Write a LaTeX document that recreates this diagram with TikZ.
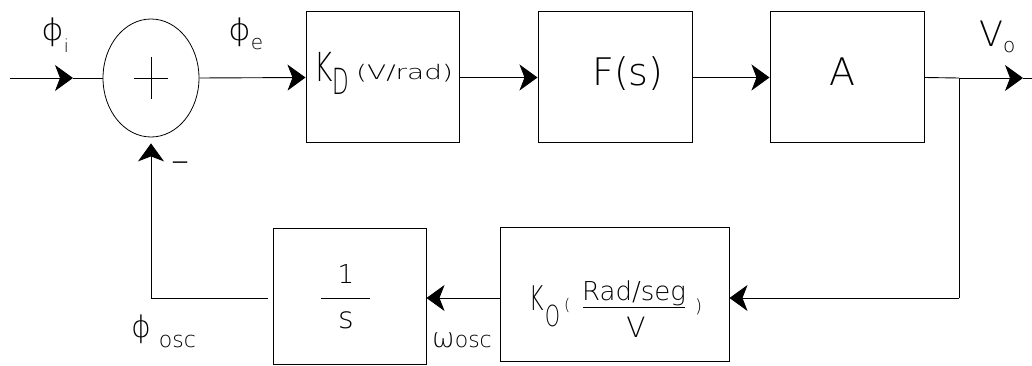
\documentclass[tikz,border=0pt]{standalone}
\usepackage{fontspec}
\usetikzlibrary{arrows.meta,shapes.geometric}
\IfFontExistsTF{DejaVu Sans ExtraLight}{\newfontfamily\cad{DejaVu Sans ExtraLight}}{\IfFontExistsTF{Fira Sans Light}{\newfontfamily\cad{Fira Sans Light}}{\newfontfamily\cad{DejaVu Sans}}}
\newfontfamily\djv{DejaVu Sans}
\newcommand\fs[1]{\fontsize{#1}{#1}\selectfont}
\newcommand\phisym{\iffontchar\font"03D5 ϕ\else{\djv ϕ}\fi}
\begin{document}
\begin{tikzpicture}[x=1pt,y=-1pt,
  blk/.style={draw=black, line width=1pt, rectangle, inner sep=0pt},
  sumj/.style={draw=black, line width=0.8pt, ellipse, inner sep=0pt, minimum width=96pt, minimum height=118pt},
  wire/.style={line width=0.9pt},
  tip/.style={-{Stealth[length=18pt,width=26pt,inset=5pt]}},
  lbl/.style={inner sep=0pt, anchor=base west, font=\cad},
  clbl/.style={inner sep=0pt, anchor=base, font=\cad}]
\useasboundingbox (0,0) rectangle (1032,366);
% blocks
\node[sumj] (sum) at (151,78) {};
\node[blk, minimum width=153pt, minimum height=131pt] (kd) at (382.5,77.5) {};
\node[blk, minimum width=154pt, minimum height=131pt] (fs) at (615,77.5) {};
\node[blk, minimum width=154pt, minimum height=131pt] (amp) at (847,77.5) {};
\node[blk, minimum width=229pt, minimum height=134pt] (ko) at (614.5,294) {};
\node[blk, minimum width=153pt, minimum height=136pt] (int) at (349.5,296) {};
% plus sign
\draw[wire] ([xshift=-17pt]sum.center) -- ([xshift=17pt]sum.center);
\draw[wire] ([yshift=21pt]sum.center) -- ([yshift=-21pt]sum.center);
% connectors
\coordinate (in) at (10,78);
\coordinate (intip) at (73,78);
\draw[wire,tip] (in) -- (intip);
\draw[wire] (intip) -- (sum.west);
\draw[wire,tip] (sum.east) -- (kd.west);
\draw[wire,tip] (kd.east) -- (fs.west);
\draw[wire,tip] (fs.east) -- (amp.west);
\coordinate (br) at (959,78);
\coordinate (outtip) at (1023,78);
\coordinate (outend) at (1032,78);
\draw[wire] (amp.east) -- (br);
\draw[wire,tip] (br) -- (outtip);
\draw[wire] (outtip) -- (outend);
\coordinate (fb) at (959,298);
\draw[wire] (br) -- (fb);
\draw[wire,tip] (fb) -- (fb -| ko.east);
\draw[wire,tip] (ko.west |- fb) -- (int.east |- fb);
\coordinate (ret) at (sum.south |- fb);
\draw[wire,tip] ([xshift=-5pt]int.west |- fb) -- (ret) -- ([yshift=-6pt]sum.south);
% labels
\node[lbl] (phii) at (41,41) {\fs{30}\scalebox{1.15}[1]{\phisym}\raisebox{-12pt}{\fs{18}i}};
\node[lbl] (phie) at (228,41) {\fs{30}\scalebox{1.15}[1]{\phisym}\raisebox{-9pt}{\fs{20}e}};
\node[lbl] (vo) at (979,47) {\fs{35}V\raisebox{-6pt}{\fs{20}o}};
\node[lbl] (phiosc) at (131,337) {\fs{30}\phisym\hspace{8pt}\raisebox{-10pt}{\fs{22}osc}};
\node[lbl] (wosc) at (432,347) {\fs{27}ω\fs{22}osc};
\node[inner sep=0pt, font=\cad] (minus) at (180,167) {\fs{36}–};
% block texts
\node[lbl] (kdt) at (314,82) {\fs{40}\scalebox{0.7}[1]{K}\raisebox{-13pt}{\fs{36}\scalebox{0.6}[1]{D}}\hspace{7pt}\raisebox{2pt}{\fs{20}\scalebox{1.4}[1]{(V/rad)}}};
\node[lbl] (fst) at (592,86) {\fs{38}F(s)};
\node[clbl] (at) at (842,86) {\fs{38}A};
\node[clbl] (one) at (346,283) {\fs{26}1};
\draw[wire] (321,298) -- (370,298);
\node[clbl] (s) at (346,328) {\fs{30}s};
\node[lbl] (kok) at (529,310) {\fs{34}\scalebox{0.65}[1]{K}};
\node[lbl] (koo) at (545,326) {\fs{29}\scalebox{0.65}[1]{O}};
\node[lbl] (kop) at (564,310) {\fs{16}(};
\node[clbl] (num) at (634,300) {\fs{26}Rad/seg};
\draw[wire] (583,307) -- (685,307);
\node[clbl] (den) at (636,337) {\fs{28}V};
\node[lbl] (kcp) at (695,312) {\fs{18})};
\end{tikzpicture}
\end{document}
